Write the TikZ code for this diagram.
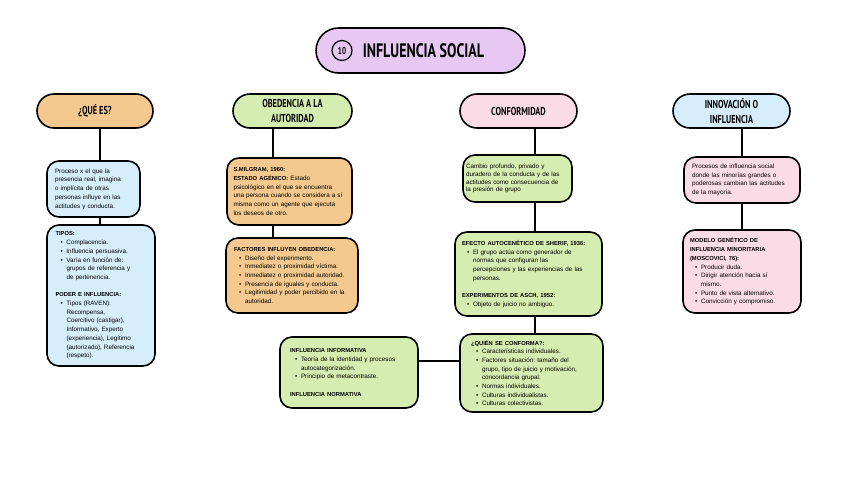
\documentclass[tikz,border=0pt]{standalone}
\usepackage{fontspec}
\setmainfont{Liberation Sans}
\newfontfamily\handfont[FakeStretch=0.72]{PT Sans}
\usetikzlibrary{shapes.misc,backgrounds}
\definecolor{lav}{HTML}{E7C8F2}
\definecolor{org}{HTML}{F3C98F}
\definecolor{grn}{HTML}{D5EDB1}
\definecolor{pnk}{HTML}{FBDCE6}
\definecolor{blu}{HTML}{D6EEFB}
\frenchspacing
\newcommand\titlef{\handfont\bfseries\fontsize{19.5}{22}\selectfont}
\newcommand\handf{\handfont\bfseries\fontsize{11.5}{15}\selectfont}
\newcommand\bodyf{\fontsize{6.3}{8.7}\selectfont}
\newcommand\hdx[1]{{\fontsize{5.8}{8.7}\selectfont\bfseries #1}}
\newcommand\bulx{\makebox[11pt][l]{\hspace{5pt}\textbullet}}
\newcommand\contx{\hspace*{11pt}}
\begin{document}
\begin{tikzpicture}[x=1pt,y=-1pt,
  conn/.style={line width=1.5pt},
  pill/.style={rounded rectangle, draw, line width=1.6pt, minimum height=34pt, minimum width=117pt, inner sep=0pt, align=center, font=\handf},
  card/.style={draw, line width=1.6pt, rounded corners=12pt, align=left, inner ysep=3pt, font=\bodyf},
]
\useasboundingbox[fill=white] (0,0) rectangle (848,477);

% title and headers
\node[pill, fill=lav, minimum width=209pt, minimum height=45pt, font=\titlef] (title) at (420.5,50.5) {\hspace*{6pt}INFLUENCIA SOCIAL};
\node[circle, draw, line width=1.2pt, minimum size=20pt, inner sep=0pt, font=\handfont\bfseries\fontsize{10}{10}\selectfont] (num) at (342,50.5) {10};
\node[pill, fill=org, minimum width=116pt] (qp) at (95,111) {¿QUÉ ES?};
\node[pill, fill=grn, minimum width=119pt] (op) at (292.5,111) {OBEDENCIA A LA\\AUTORIDAD};
\node[pill, fill=pnk] (cp) at (518.5,111) {CONFORMIDAD};
\node[pill, fill=blu] (ip) at (731.5,111) {INNOVACIÓN O\\INFLUENCIA};

% ¿Qué es?
\node[card, fill=blu, text width=77pt, inner xsep=8pt, minimum height=56pt] (q1) at (93.5,189)
 {Proceso x el que la\\presencia real, imagina\\o implícita de otras\\personas influye en las\\actitudes y conducta.};
\node[card, fill=blu, text width=91pt, inner xsep=8.5pt, minimum height=141pt] (tipos) at (101,295.5)
 {\hdx{TIPOS:}\\
  \bulx Complacencia.\\
  \bulx Influencia persuasiva.\\
  \bulx Varía en función de:\\
  \contx grupos de referencia y\\
  \contx de pertenencia.\\[8.7pt]
  \hdx{PODER E INFLUENCIA:}\\
  \bulx Tipos (RAVEN):\\
  \contx Recompensa,\\
  \contx Coercitivo (castigar),\\
  \contx Informativo, Experto\\
  \contx (experiencia), Legítimo\\
  \contx (autorizado), Referencia\\
  \contx (respeto).};

% Obediencia
\node[card, fill=org, text width=112pt, inner xsep=6.5pt, minimum height=67pt] (mil) at (289.5,191.5)
 {\hdx{S.MILGRAM, 1960:}\\
  \hdx{ESTADO AGÉNICO:} Estado\\
  psicológico en el que se encuentra\\
  una persona cuando se considera a sí\\
  misma como un agente que ejecuta\\
  los deseos de otro.};
\node[card, fill=org, text width=116pt, inner xsep=8pt, minimum height=75pt] (fac) at (292,275.5)
 {\hdx{FACTORES INFLUYEN OBEDENCIA:}\\
  \bulx Diseño del experimento.\\
  \bulx Inmediatez o proximidad víctima.\\
  \bulx Inmediatez o proximidad autoridad.\\
  \bulx Presencia de iguales y conducta.\\
  \bulx Legitimidad y poder percibido en la\\
  \contx autoridad.};

% Conformidad
\node[card, fill=grn, text width=103pt, inner xsep=3pt, minimum height=47pt, font=\fontsize{6.3}{7.8}\selectfont] (cam) at (517.5,178.5)
 {Cambio profundo, privado y\\duradero de la conducta y de las\\actitudes como consecuencia de\\la presión de grupo};
\node[card, fill=grn, text width=133pt, inner xsep=7pt, minimum height=84pt] (efe) at (528.5,274)
 {\hdx{EFECTO AUTOCENÉTICO DE SHERIF, 1936:}\\
  \bulx El grupo actúa como generador de\\
  \contx normas que configuran las\\
  \contx percepciones y las experiencias de las\\
  \contx personas.\\[8.7pt]
  \hdx{EXPERIMENTOS DE ASCH, 1952:}\\
  \bulx Objeto de juicio no ambiguo.};
\node[card, fill=grn, text width=121pt, inner xsep=11pt, minimum height=78pt] (qui) at (531.5,373)
 {\hdx{¿QUIÉN SE CONFORMA?:}\\
  \bulx Características individuales.\\
  \bulx Factores situación: tamaño del\\
  \contx grupo, tipo de juicio y motivación,\\
  \contx concordancia grupal.\\
  \bulx Normas individuales.\\
  \bulx Culturas individualistas.\\
  \bulx Culturas colectivistas.};
\node[card, fill=grn, text width=118pt, inner xsep=10pt, minimum height=71pt] (inf) at (349,372.5)
 {\hdx{INFLUENCIA INFORMATIVA}\\
  \bulx Teoría de la identidad y procesos\\
  \contx autocategorización.\\
  \bulx Principio de metacontraste.\\[8.7pt]
  \hdx{INFLUENCIA NORMATIVA}};

% Innovación
\node[card, fill=pnk, text width=100pt, inner xsep=8pt, minimum height=46pt] (inn) at (742,180)
 {Procesos de influencia social\\donde las minorías grandes o\\poderosas cambian las actitudes\\de la mayoría.};
\node[card, fill=pnk, text width=104pt, inner xsep=7pt, minimum height=83pt] (mod) at (742,271.5)
 {\hdx{MODELO GENÉTICO DE}\\
  \hdx{INFLUENCIA MINORITARIA}\\
  \hdx{(MOSCOVICI, 76):}\\
  \bulx Producir duda.\\
  \bulx Dirigir atención hacia sí\\
  \contx mismo.\\
  \bulx Punto de vista alternativo.\\
  \bulx Convicción y compromiso.};

% connectors
\coordinate (xa) at (100,52);
\coordinate (xb) at (273,52);
\coordinate (xc) at (535,52);
\coordinate (xd) at (742,52);
\coordinate (yh) at (0,361);
\begin{pgfonlayer}{background}
\draw[conn] (title.center |- xa) -- (xa) -- (xa |- qp.north);
\draw[conn] (xb) -- (xb |- op.north);
\draw[conn] (title.center |- xd) -- (xd) -- (xd |- ip.north);
\draw[conn] (xc) -- (xc |- cp.north);
\end{pgfonlayer}
\draw[conn] (qp.south -| xa) -- (q1.north -| xa);
\draw[conn] (q1.south -| xa) -- (tipos.north -| xa);
\draw[conn] (op.south -| xb) -- (mil.north -| xb);
\draw[conn] (mil.south -| xb) -- (fac.north -| xb);
\draw[conn] (cp.south -| xc) -- (cam.north -| xc);
\draw[conn] (cam.south -| xc) -- (efe.north -| xc);
\draw[conn] (efe.south -| xc) -- (qui.north -| xc);
\draw[conn] (ip.south -| xd) -- (inn.north -| xd);
\draw[conn] (inn.south -| xd) -- (mod.north -| xd);
\draw[conn] (inf.east |- yh) -- (qui.west |- yh);
\end{tikzpicture}
\end{document}
